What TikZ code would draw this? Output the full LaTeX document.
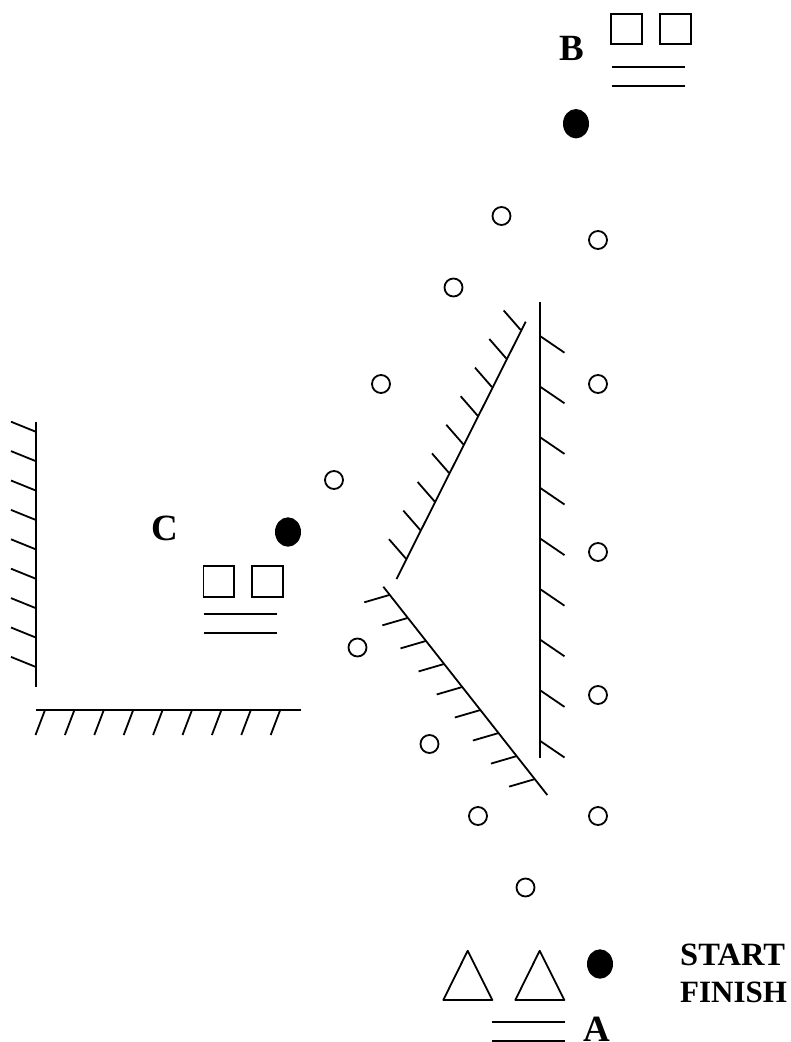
\documentclass[tikz,border=0pt]{standalone}
\usepackage{fontspec}
\setmainfont{Liberation Serif}
\tikzset{
  wall/.style={line width=1.8pt},
  ring/.style={line width=1.8pt},
  blob/.style={fill=black,draw=none},
  bigtag/.style={inner sep=0pt,anchor=base,font=\fontsize{37}{37}\selectfont\bfseries},
  smalltag/.style={inner sep=0pt,anchor=base west,font=\fontsize{#1}{#1}\selectfont\bfseries}
}
\begin{document}
\begin{tikzpicture}[x=1pt,y=-1pt]
    \useasboundingbox (0,0) rectangle (791,1042);
    % right wall
    \draw[wall] (540,302) -- (540,758);
    \foreach \k in {0,...,8}
      \draw[wall] (540,336+50.6*\k) -- ++(24.5,16.7);
    % upper slanted wall
    \draw[wall] (396.5,579) -- (525.7,321.7);
    \foreach \k in {0,...,8}
      \draw[wall] (406+14.33*\k,558.7-28.6*\k) -- ++(-17,-19.5);
    % lower slanted wall
    \draw[wall] (383.3,586.7) -- (547.3,795);
    \foreach \k in {0,...,8}
      \draw[wall] (389.3+18.1*\k,595+23.04*\k) -- ++(-25,7.3);
    % left wall
    \draw[wall] (35.7,421.7) -- (35.7,686.7);
    \foreach \k in {0,...,8}
      \draw[wall] (35.7,431.7+29.4*\k) -- ++(-24.7,-10);
    % floor
    \draw[wall] (36,710) -- (300.7,710);
    \foreach \k in {0,...,8}
      \draw[wall] (45+29.4*\k,710) -- ++(-9.5,25);
    % way points
    \foreach \cx/\cy in {598/240,501.5/216,453.5/287.5,381/384,334/480,598/384,598/552,598/695,598/816,478/816,429.5/744,357.5/647.5,525.5/887.5}
      \draw[ring] (\cx,\cy) circle (9);
    \fill[blob] (576,123.7) ellipse (13 and 14.7);
    \fill[blob] (288,532) ellipse (13 and 14.7);
    \fill[blob] (600,964) ellipse (13 and 14.7);
    % B
    \draw[ring] (611.3,14) rectangle (642.3,44.3);
    \draw[ring] (659.7,14) rectangle (690.7,44.3);
    \draw[ring] (611.5,66.7) -- (684.7,66.7);
    \draw[ring] (611.5,86) -- (684.7,86);
    % C
    \draw[ring] (203.5,566) rectangle (234.3,596.7);
    \draw[ring] (251.9,566) rectangle (282.7,596.7);
    \draw[ring] (203.5,614) -- (276.7,614);
    \draw[ring] (203.5,633.3) -- (276.7,633.3);
    % A
    \draw[ring,line join=round] (443.3,1000) -- (467.7,950.7) -- (492.3,1000) -- cycle;
    \draw[ring,line join=round] (515.3,1000) -- (539.7,950.7) -- (564.3,1000) -- cycle;
    \draw[ring] (491.7,1022.3) -- (564.7,1022.3);
    \draw[ring] (491.7,1041) -- (564.7,1041);
    \node[bigtag] (tagB) at (571.5,60) {B};
    \node[bigtag] (tagC) at (164.5,540) {C};
    \node[bigtag] (tagA) at (596.5,1041) {A};
    \node[smalltag=32.5] (tagstart) at (680,965.7) {START};
    \node[smalltag=31] (tagfinish) at (680,1002.3) {FINISH};
\end{tikzpicture}
\end{document}
